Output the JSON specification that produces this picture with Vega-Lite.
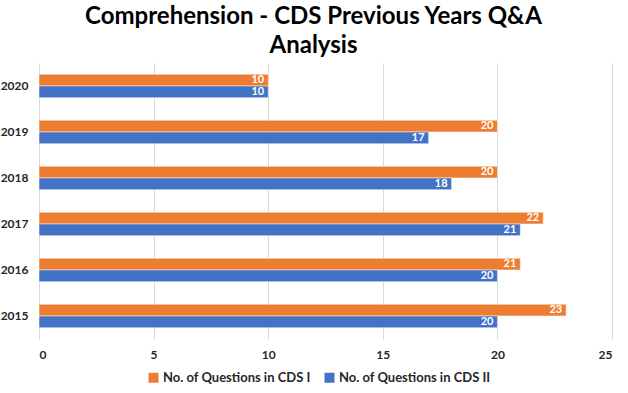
{
  "$schema": "https://vega.github.io/schema/vega-lite/v6.json",
  "width": 573,
  "height": 276,
  "autosize": {"type": "none"},
  "padding": {"left": 39, "top": 63, "right": 16, "bottom": 54},
  "background": "white",
  "title": {
    "text": ["Comprehension - CDS Previous Years Q&A", "Analysis"],
    "font": "Lato",
    "fontSize": 24,
    "fontWeight": "bold",
    "color": "#000000",
    "anchor": "middle",
    "frame": "group",
    "dx": -12,
    "lineHeight": 29,
    "offset": 5
  },
  "data": {
    "values": [
      {"year": "2020", "series": "No. of Questions in CDS I", "value": 10},
      {"year": "2020", "series": "No. of Questions in CDS II", "value": 10},
      {"year": "2019", "series": "No. of Questions in CDS I", "value": 20},
      {"year": "2019", "series": "No. of Questions in CDS II", "value": 17},
      {"year": "2018", "series": "No. of Questions in CDS I", "value": 20},
      {"year": "2018", "series": "No. of Questions in CDS II", "value": 18},
      {"year": "2017", "series": "No. of Questions in CDS I", "value": 22},
      {"year": "2017", "series": "No. of Questions in CDS II", "value": 21},
      {"year": "2016", "series": "No. of Questions in CDS I", "value": 21},
      {"year": "2016", "series": "No. of Questions in CDS II", "value": 20},
      {"year": "2015", "series": "No. of Questions in CDS I", "value": 23},
      {"year": "2015", "series": "No. of Questions in CDS II", "value": 20}
    ]
  },
  "encoding": {
    "y": {
      "field": "year",
      "type": "nominal",
      "sort": ["2020", "2019", "2018", "2017", "2016", "2015"],
      "scale": {"paddingInner": 0.49, "paddingOuter": 0.245},
      "axis": {
        "title": null,
        "domain": false,
        "ticks": false,
        "labelPadding": 11,
        "labelFont": "Lato",
        "labelFontSize": 12,
        "labelFontWeight": "bold",
        "labelColor": "#262626"
      }
    },
    "yOffset": {
      "field": "series",
      "type": "nominal",
      "sort": ["No. of Questions in CDS I", "No. of Questions in CDS II"],
      "scale": {"paddingInner": 0, "paddingOuter": 0}
    },
    "x": {
      "field": "value",
      "type": "quantitative",
      "scale": {"domain": [0, 25], "nice": false},
      "axis": {
        "title": null,
        "values": [0, 5, 10, 15, 20, 25],
        "domain": false,
        "ticks": false,
        "grid": true,
        "gridColor": "#d9d9d9",
        "gridWidth": 1,
        "labelPadding": 10,
        "labelFont": "Lato",
        "labelFontSize": 12,
        "labelFontWeight": "bold",
        "labelColor": "#262626"
      }
    }
  },
  "layer": [
    {
      "mark": {"type": "bar", "stroke": "white", "strokeWidth": 0.5},
      "encoding": {
        "color": {
          "field": "series",
          "type": "nominal",
          "scale": {
            "domain": ["No. of Questions in CDS I", "No. of Questions in CDS II"],
            "range": ["#ED7D31", "#4472C4"]
          },
          "legend": {
            "title": null,
            "orient": "none",
            "legendX": 108,
            "legendY": 308,
            "direction": "horizontal",
            "symbolType": "square",
            "symbolSize": 100,
            "symbolStrokeWidth": 0,
            "labelOffset": 3,
            "labelFont": "Lato",
            "labelFontSize": 13,
            "labelFontWeight": "bold",
            "labelColor": "#262626",
            "columnPadding": 12
          }
        }
      }
    },
    {
      "mark": {
        "type": "text",
        "align": "right",
        "baseline": "middle",
        "dx": -4,
        "color": "white",
        "font": "Lato",
        "fontSize": 11,
        "fontWeight": "bold"
      },
      "encoding": {
        "text": {"field": "value", "type": "quantitative"}
      }
    }
  ],
  "config": {
    "view": {"stroke": null}
  }
}
